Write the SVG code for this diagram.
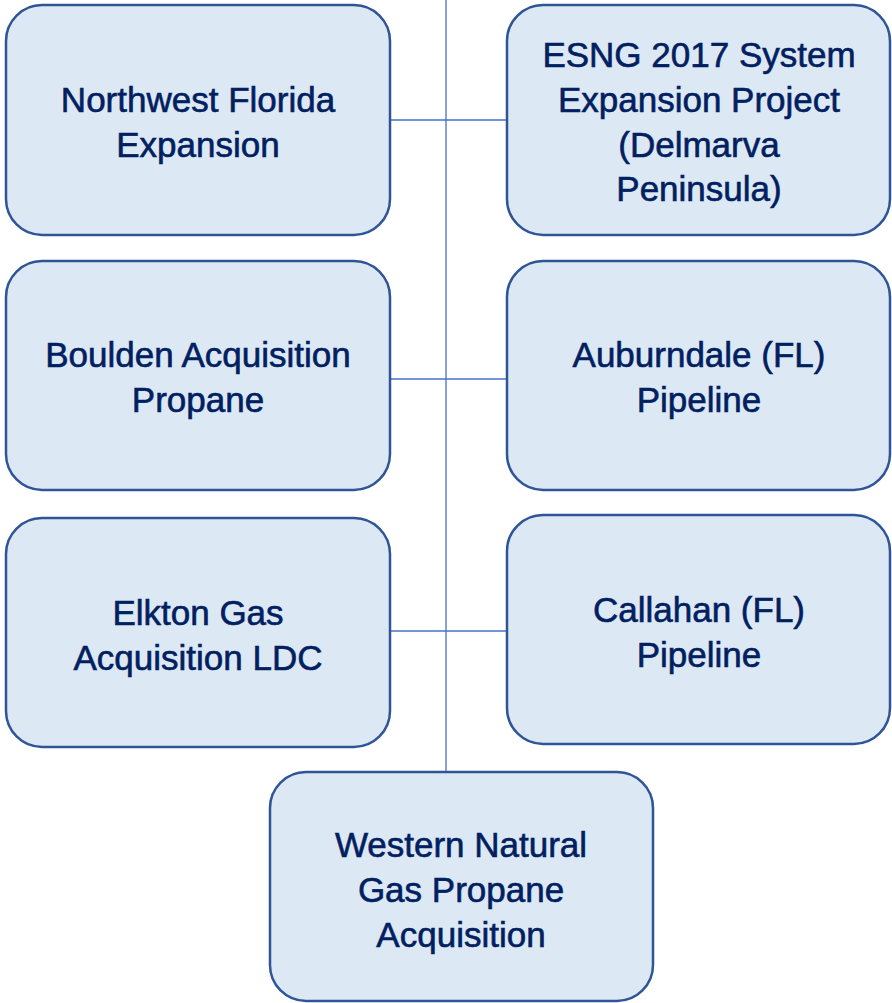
<svg xmlns="http://www.w3.org/2000/svg" width="892" height="1003" viewBox="0 0 892 1003">
<style>
.box{fill:#dde8f5;stroke:#2f5597;stroke-width:2.5}
.t{font-family:"Liberation Sans",Arial,sans-serif;font-size:35px;fill:#002060;stroke:#002060;stroke-width:0.6;text-anchor:middle}
.c{stroke:#4472c4;stroke-width:1.3;fill:none}
</style>
<rect width="892" height="1003" fill="#ffffff"/>
<g id="connectors">
<line class="c" x1="446" y1="0" x2="446" y2="771"/>
<line class="c" x1="390" y1="120" x2="507" y2="120"/>
<line class="c" x1="390" y1="379" x2="507" y2="379"/>
<line class="c" x1="390" y1="631" x2="507" y2="631"/>
</g>
<g id="n1"><rect class="box" x="6" y="5" width="384" height="230" rx="36"/>
<text class="t" x="198" y="112">Northwest Florida</text><text class="t" x="198" y="157">Expansion</text></g>
<g id="n2"><rect class="box" x="507" y="5" width="383" height="230" rx="36"/>
<text class="t" x="699" y="67">ESNG 2017 System</text><text class="t" x="699" y="112">Expansion Project</text><text class="t" x="699" y="157">(Delmarva</text><text class="t" x="699" y="201">Peninsula)</text></g>
<g id="n3"><rect class="box" x="6" y="261" width="384" height="229" rx="36"/>
<text class="t" x="198" y="367">Boulden Acquisition</text><text class="t" x="198" y="412">Propane</text></g>
<g id="n4"><rect class="box" x="507" y="261" width="383" height="229" rx="36"/>
<text class="t" x="699" y="367">Auburndale (FL)</text><text class="t" x="699" y="412">Pipeline</text></g>
<g id="n5"><rect class="box" x="6" y="518" width="384" height="229" rx="36"/>
<text class="t" x="198" y="625">Elkton Gas</text><text class="t" x="198" y="670">Acquisition LDC</text></g>
<g id="n6"><rect class="box" x="507" y="515" width="383" height="229" rx="36"/>
<text class="t" x="699" y="622">Callahan (FL)</text><text class="t" x="699" y="667">Pipeline</text></g>
<g id="n7"><rect class="box" x="270" y="772" width="383" height="229" rx="36"/>
<text class="t" x="461" y="857">Western Natural</text><text class="t" x="461" y="902">Gas Propane</text><text class="t" x="461" y="947">Acquisition</text></g>
</svg>
